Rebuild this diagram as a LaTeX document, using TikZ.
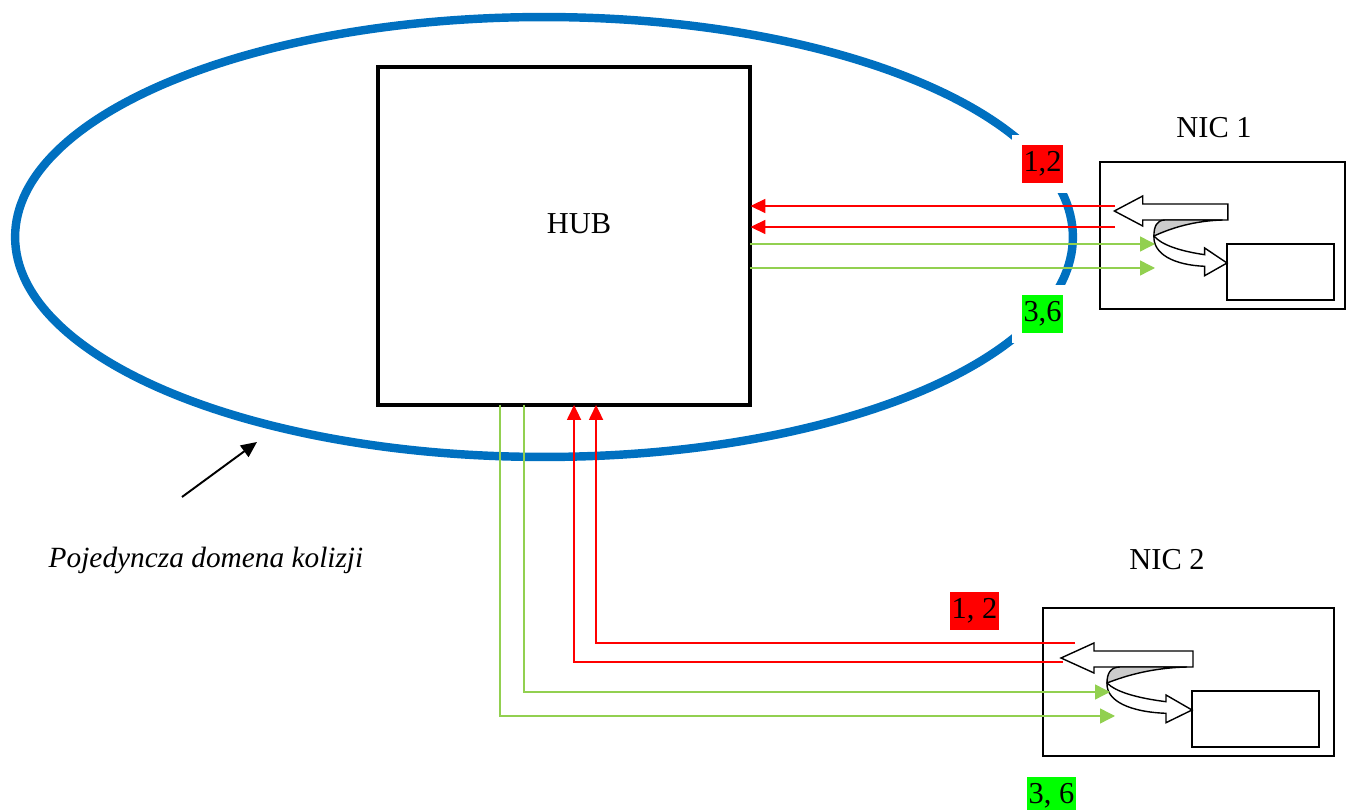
\documentclass[tikz,border=0pt]{standalone}
\usepackage{fontspec}
\setmainfont{Liberation Serif}
\usetikzlibrary{calc, arrows.meta, shapes.geometric}
\definecolor{domblue}{HTML}{0070C0}
\definecolor{wirered}{HTML}{FF0000}
\definecolor{wiregreen}{HTML}{92D050}
\definecolor{lblgreen}{HTML}{00FF00}
\tikzstyle{txt}=[font=\fontsize{17.3}{20}\selectfont, inner sep=0]
\tikzstyle{wirelbl}=[txt, minimum height=21.6pt, inner xsep=0.9pt]
\tikzstyle{cutlbl}=[wirelbl, preaction={draw=white, line width=11pt}]
\tikzstyle{redarr}=[draw=wirered, line width=0.8pt, -{Triangle[length=8.5pt, width=8pt]}]
\tikzstyle{greenarr}=[draw=wiregreen, line width=0.8pt, -{Triangle[length=8.5pt, width=8.5pt]}]
\tikzstyle{nicbox}=[draw, line width=0.75pt, inner sep=0, outer sep=0]
\tikzstyle{chip}=[draw, line width=1.5pt, inner sep=0, outer sep=0, minimum height=1.12cm]
\tikzstyle{block}=[draw, line width=0.8pt, line join=miter]

\begin{document}
\begin{tikzpicture}[x=0.02cm, y=-0.02cm]
\useasboundingbox (0,0) rectangle (1347,810);
% collision domain and hub
\node[ellipse, draw=domblue, line width=4.8pt, inner sep=0,
  minimum width=21.16cm, minimum height=8.8cm] (domain) at (544,237) {};
\node[draw, line width=2.3pt, inner sep=0, outer sep=0,
  minimum width=7.46cm, minimum height=6.76cm] (hub) at (564,236) {};
\node[txt] (hublbl) at (579,224) {HUB};
\node[cutlbl, fill=wirered] (lbl12) at (1042.5,164) {1,2};
\node[cutlbl, fill=lblgreen] (lbl36) at (1042.5,314) {3,6};
\node[txt, font=\fontsize{16.7}{20}\selectfont\itshape] (domlbl) at (206,560) {Pojedyncza domena kolizji};
\coordinate (ptail) at (182,497);
\coordinate (phead) at (257,442);
\draw[line width=1.1pt, -{Triangle[length=9pt, width=8pt]}] (ptail) -- (phead);

% network cards
\node[nicbox, minimum width=4.9cm, minimum height=2.94cm] (nic1) at (1222.5,235.5) {};
\node[chip, minimum width=2.14cm] (chip1) at (1280.5,272) {};
\node[txt] (nic1lbl) at (1214,128) {NIC 1};
\node[nicbox, minimum width=5.82cm, minimum height=2.96cm] (nic2) at (1188.5,682) {};
\node[chip, minimum width=2.54cm] (chip2) at (1255.5,719) {};
\node[txt] (nic2lbl) at (1167,560) {NIC 2};
\node[wirelbl, fill=wirered] (lbl12b) at (974.5,611) {1, 2};
\node[wirelbl, fill=lblgreen] (lbl36b) at (1051.5,796) {3, 6};

\foreach \c/\sx in {chip1/0.86, chip2/1}
{
\begin{scope}[shift={(\c.north west)}, xscale=\sx]
\draw[block, fill=white] (1,-40) -- (-98,-40) -- (-98,-48) -- (-131,-33)
  -- (-98,-18) -- (-98,-24) -- (1,-24) -- cycle;
\draw[block, fill=black!20] (-5,-24) -- (-72,-24) .. controls (-82,-24) and (-85,-17) .. (-85,-8)
  .. controls (-72,-13) and (-45,-23) .. (-5,-24) -- cycle;
\draw[block, fill=white] (-85,-8) .. controls (-76,1) and (-55,7) .. (-26,10.7)
  -- (-26,4) -- (0,19) -- (-26,31.7) -- (-26,22.3)
  .. controls (-62,21) and (-86,10) .. (-85,-8) -- cycle;
\end{scope}
}

% wires of NIC 1
\coordinate (r1a) at (1115,206);
\coordinate (r1b) at (1115,227);
\coordinate (g1a) at (1155,244);
\coordinate (g1b) at (1155,268);
\draw[redarr] (r1a) -- (r1a -| hub.east);
\draw[redarr] (r1b) -- (r1b -| hub.east);
\draw[greenarr] (g1a -| hub.east) -- (g1a);
\draw[greenarr] (g1b -| hub.east) -- (g1b);

% wires of NIC 2
\coordinate (r2a) at (1075,643);
\coordinate (r2b) at (1063,662);
\coordinate (g2a) at (1110,692);
\coordinate (g2b) at (1115,716);
\draw[redarr] (r2a) -| ($(hub.south west)+(218.5,0)$);
\draw[redarr] (r2b) -| ($(hub.south west)+(196.5,0)$);
\draw[greenarr] ($(hub.south west)+(146.5,0)$) |- (g2a);
\draw[greenarr] ($(hub.south west)+(122.5,0)$) |- (g2b);
\end{tikzpicture}
\end{document}
